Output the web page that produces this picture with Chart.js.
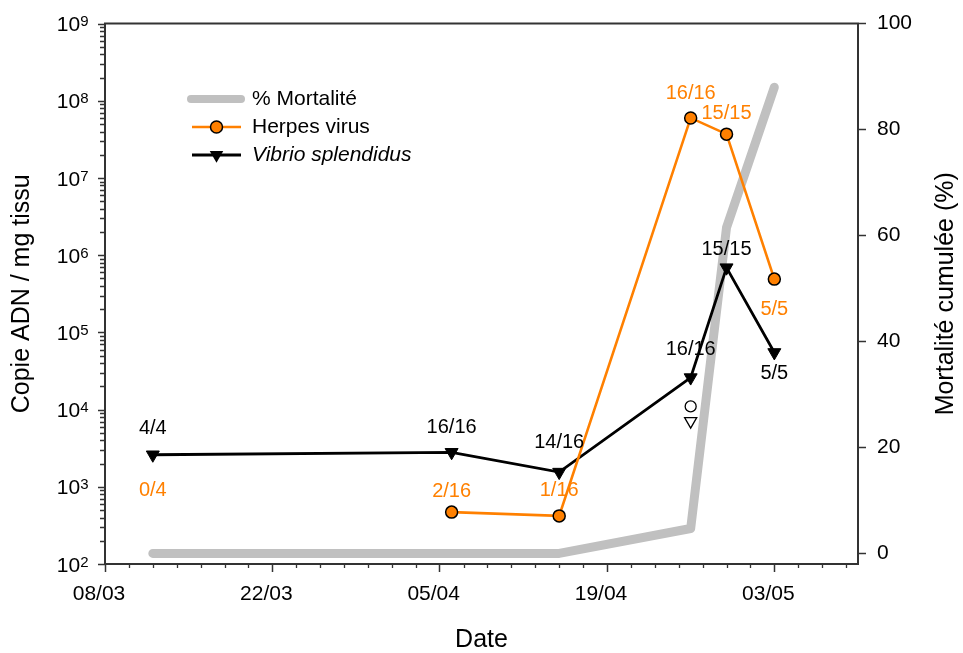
<!DOCTYPE html>
<html>
<head>
<meta charset="utf-8">
<script src="https://cdn.jsdelivr.net/npm/chart.js@4.4.1/dist/chart.umd.min.js"></script>
<style>
  html, body { margin: 0; padding: 0; background: #ffffff; }
  #wrap { width: 963px; height: 653px; }
</style>
</head>
<body>
<div id="wrap"><canvas id="chart" width="963" height="653"></canvas></div>
<script>
// ---- Data -------------------------------------------------------------
// Sampling dates (dd/mm)
const dates = ['12/03', '06/04', '15/04', '26/04', '29/04', '03/05'];
// Cumulative mortality (%)
const mortality = [0, 0, 0, 4.7, 61.5, 88];
// DNA copies per mg of tissue
const herpesCopies = [null, 470, 420, 6.0e7, 3.7e7, 4.9e5];
const vibrioCopies = [2600, 2800, 1550, 26000, 690000, 55000];
// Positive animals / animals analysed
const herpesPositives = ['0/4', '2/16', '1/16', '16/16', '15/15', '5/5'];
const vibrioPositives = ['4/4', '16/16', '14/16', '16/16', '15/15', '5/5'];
// Extra open symbols on 26/04
const openDate = '26/04';
const openHerpesCopies = 11000;
const openVibrioCopies = 7100;
// Axes
const xTickLabels = ['08/03', '22/03', '05/04', '19/04', '03/05'];
const xFirst = '08/03';
const xLast = '10/05';
const mortalityTicks = [0, 20, 40, 60, 80, 100];
const copyDecades = [2, 3, 4, 5, 6, 7, 8, 9];

// ---- Style ------------------------------------------------------------
const FONT = '"Liberation Sans", Arial, Helvetica, sans-serif';
const ORANGE = '#FF8000';
const GREY = '#C0C0C0';
const AXIS = '#333333';
// label offsets (px, vertical) from the point they describe
const vibrioLabelShift = [-26, -25, -30, -28, -18, 21];
const herpesLabelShift = [36, -21, -25, -24, -21, 30];

// days counted from 08/03
const monthStart = { 3: -8, 4: 23, 5: 53 };
function day(s) {
  const [d, m] = s.split('/').map(Number);
  return monthStart[m] + d;
}
const tickLabelByDay = {};
xTickLabels.forEach(l => { tickLabelByDay[day(l)] = l; });

const pts = vals => dates.map((d, i) => ({ x: day(d), y: vals[i] }));

// ---- Plugins ----------------------------------------------------------
const decorations = {
  id: 'decorations',
  afterDraw(chart) {
    const { ctx, chartArea: a, scales } = chart;
    const xs = scales.x, ys = scales.y;
    ctx.save();

    // top frame line
    ctx.strokeStyle = AXIS;
    ctx.lineWidth = 2;
    ctx.beginPath();
    ctx.moveTo(a.left - 1, a.top);
    ctx.lineTo(a.right + 1, a.top);
    ctx.stroke();

    // minor ticks on the date axis (every 2 days)
    ctx.lineWidth = 1.3;
    ctx.beginPath();
    for (let d = day(xFirst); d <= day(xLast); d += 2) {
      if (tickLabelByDay[d] !== undefined) continue;
      const px = Math.round(xs.getPixelForValue(d)) + 0.5;
      ctx.moveTo(px, a.bottom);
      ctx.lineTo(px, a.bottom + 4);
    }
    ctx.stroke();

    // log axis ticks (decades + 2..9 minors)
    ctx.beginPath();
    copyDecades.forEach(k => {
      const py = Math.round(ys.getPixelForValue(Math.pow(10, k))) + 0.5;
      ctx.moveTo(a.left, py);
      ctx.lineTo(a.left - 7, py);
      if (k < copyDecades[copyDecades.length - 1]) {
        for (let m = 2; m <= 9; m++) {
          const pm = Math.round(ys.getPixelForValue(m * Math.pow(10, k))) + 0.5;
          ctx.moveTo(a.left, pm);
          ctx.lineTo(a.left - 5, pm);
        }
      }
    });
    ctx.stroke();

    // decade labels 10^k
    ctx.fillStyle = '#000';
    ctx.textBaseline = 'alphabetic';
    const baseFont = '21px ' + FONT, supFont = '15px ' + FONT;
    copyDecades.forEach(k => {
      const py = ys.getPixelForValue(Math.pow(10, k));
      const right = a.left - 16.5;
      ctx.font = supFont;
      const sw = ctx.measureText(String(k)).width;
      ctx.textAlign = 'left';
      ctx.fillText(String(k), right - sw, py + 2.5);
      ctx.font = baseFont;
      ctx.textAlign = 'right';
      ctx.fillText('10', right - sw, py + 7.5);
    });

    // right axis title (reads bottom to top)
    ctx.save();
    ctx.translate(946, (a.top + a.bottom) / 2);
    ctx.rotate(-Math.PI / 2);
    ctx.font = '25px ' + FONT;
    ctx.textAlign = 'center';
    ctx.textBaseline = 'middle';
    ctx.fillText('Mortalité cumulée (%)', 0, 0);
    ctx.restore();

    // counts of positive animals
    ctx.font = '20px ' + FONT;
    ctx.textAlign = 'center';
    ctx.textBaseline = 'middle';
    dates.forEach((d, i) => {
      const px = xs.getPixelForValue(day(d));
      ctx.fillStyle = '#000';
      ctx.fillText(vibrioPositives[i], px, ys.getPixelForValue(vibrioCopies[i]) + vibrioLabelShift[i]);
      const anchor = herpesCopies[i] !== null ? herpesCopies[i] : vibrioCopies[i];
      ctx.fillStyle = ORANGE;
      ctx.fillText(herpesPositives[i], px, ys.getPixelForValue(anchor) + herpesLabelShift[i]);
    });

    // legend
    const lx0 = 191, lx1 = 241, lxm = 216.5, tx = 252;
    const rows = [99, 127, 155];
    chart.data.datasets.slice(0, 3).forEach((ds, i) => {
      const y = rows[i];
      ctx.strokeStyle = ds.borderColor;
      ctx.lineWidth = i === 0 ? 8 : ds.borderWidth;
      ctx.lineCap = i === 0 ? 'round' : 'butt';
      ctx.beginPath();
      ctx.moveTo(i === 0 ? lx0 : lx0 + 1, y);
      ctx.lineTo(lx1, y);
      ctx.stroke();
      if (i === 1) {
        ctx.beginPath();
        ctx.arc(lxm, y, 6, 0, Math.PI * 2);
        ctx.fillStyle = ORANGE;
        ctx.fill();
        ctx.lineWidth = 1.5;
        ctx.strokeStyle = '#000';
        ctx.stroke();
      } else if (i === 2) {
        const r = 7.8;
        ctx.beginPath();
        ctx.moveTo(lxm, y + r);
        ctx.lineTo(lxm - r * 0.866, y - r / 2);
        ctx.lineTo(lxm + r * 0.866, y - r / 2);
        ctx.closePath();
        ctx.fillStyle = '#000';
        ctx.fill();
      }
      ctx.fillStyle = '#000';
      ctx.font = (i === 2 ? 'italic ' : '') + '21px ' + FONT;
      ctx.textAlign = 'left';
      ctx.textBaseline = 'middle';
      ctx.fillText(ds.label, tx, y);
    });

    ctx.restore();
  }
};

// ---- Chart ------------------------------------------------------------
new Chart(document.getElementById('chart'), {
  type: 'line',
  data: {
    datasets: [
      {
        label: '% Mortalité',
        data: pts(mortality),
        yAxisID: 'y1',
        borderColor: GREY,
        borderWidth: 9,
        borderCapStyle: 'round',
        borderJoinStyle: 'round',
        pointRadius: 0,
        order: 3
      },
      {
        label: 'Herpes virus',
        data: pts(herpesCopies),
        yAxisID: 'y',
        borderColor: ORANGE,
        borderWidth: 2.6,
        pointStyle: 'circle',
        pointRadius: 6,
        pointBackgroundColor: ORANGE,
        pointBorderColor: '#000',
        pointBorderWidth: 1.5,
        spanGaps: false,
        order: 1
      },
      {
        label: 'Vibrio splendidus',
        data: pts(vibrioCopies),
        yAxisID: 'y',
        borderColor: '#000',
        borderWidth: 2.8,
        pointStyle: 'triangle',
        pointRotation: 180,
        pointRadius: 7.5,
        pointBackgroundColor: '#000',
        pointBorderColor: '#000',
        pointBorderWidth: 1,
        order: 2
      },
      {
        label: '',
        data: [
          { x: day(openDate), y: openHerpesCopies },
          { x: day(openDate), y: openVibrioCopies }
        ],
        yAxisID: 'y',
        showLine: false,
        pointStyle: ['circle', 'triangle'],
        pointRotation: [0, 180],
        pointRadius: [5.5, 7],
        pointBackgroundColor: '#fff',
        pointBorderColor: '#000',
        pointBorderWidth: 1.3,
        order: 0
      }
    ]
  },
  options: {
    responsive: false,
    animation: false,
    devicePixelRatio: 1,
    layout: { padding: { top: 22, left: 0, right: 0, bottom: 0 } },
    plugins: { legend: { display: false }, tooltip: { enabled: false } },
    elements: { line: { tension: 0 } },
    scales: {
      x: {
        type: 'linear',
        position: 'bottom',
        min: day(xFirst),
        max: day(xLast),
        afterBuildTicks: s => { s.ticks = xTickLabels.map(l => ({ value: day(l) })); },
        afterFit: s => { s.height = 89; },
        ticks: {
          callback: v => tickLabelByDay[v] || '',
          autoSkip: false,
          maxRotation: 0,
          color: '#000',
          font: { family: FONT, size: 21, lineHeight: 1.2 },
          padding: 10,
          labelOffset: -6
        },
        grid: { display: true, drawOnChartArea: false, drawTicks: true, tickLength: 8, tickWidth: 1.5, tickColor: AXIS },
        border: { display: true, color: AXIS, width: 2 },
        title: { display: true, text: 'Date', color: '#000', font: { family: FONT, size: 25, lineHeight: 1 }, padding: { top: 0, bottom: 0 } }
      },
      y: {
        type: 'logarithmic',
        position: 'left',
        min: 100,
        max: 1e9,
        afterFit: s => { s.width = 105; },
        ticks: { display: false },
        grid: { display: false },
        border: { display: true, color: AXIS, width: 2 },
        title: { display: true, text: 'Copie ADN / mg tissu', color: '#000', font: { family: FONT, size: 25, lineHeight: 1 }, padding: { top: 9.5, bottom: 0 } }
      },
      y1: {
        type: 'linear',
        position: 'right',
        min: -2,
        max: 100,
        afterBuildTicks: s => { s.ticks = mortalityTicks.map(v => ({ value: v })); },
        afterFit: s => { s.width = 105; },
        ticks: {
          color: '#000',
          font: { family: FONT, size: 21 },
          padding: 11
        },
        grid: { display: true, drawOnChartArea: false, drawTicks: true, tickLength: 8, tickWidth: 1.5, tickColor: AXIS },
        border: { display: true, color: AXIS, width: 2 }
      }
    }
  },
  plugins: [decorations]
});
</script>
</body>
</html>
